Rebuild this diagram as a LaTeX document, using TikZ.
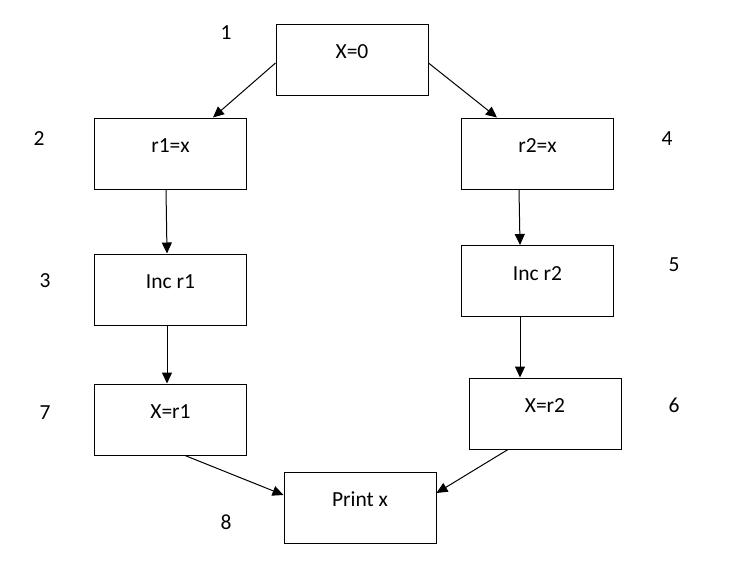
\documentclass[tikz,border=0pt]{standalone}
\usepackage{fontspec}
\setmainfont{Carlito}
\usetikzlibrary{arrows.meta}
\tikzset{stmt/.style={draw,line width=1pt,inner sep=0pt,minimum width=152pt,text height=34.5pt,text depth=36.5pt,font=\fontsize{21.5}{26}\selectfont},
  num/.style={inner sep=0pt,font=\fontsize{21.5}{26}\selectfont},
  arr/.style={-{Triangle[length=11pt,width=10pt]},line width=1pt}}
\begin{document}
\begin{tikzpicture}[x=1pt,y=-1pt]
\useasboundingbox (0,0) rectangle (738,576);
\node[stmt] (x0) at (352,59.5){X=0}; \node[num] (n1) at (226,33){1};
\node[stmt] (r1) at (170.5,153.5){r1=x}; \node[num] (n2) at (39,139){2};
\node[stmt] (r2) at (537.5,153.5){r2=x}; \node[num] (n4) at (667,139){4};
\node[stmt] (inc1) at (170.5,289.5){Inc r1}; \node[num] (n3) at (45,281){3};
\node[stmt] (inc2) at (537.5,281){Inc r2}; \node[num] (n5) at (674,265){5};
\node[stmt] (xr1) at (170.5,419.5){X=r1}; \node[num] (n7) at (45,413){7};
\node[stmt] (xr2) at (545,413.5){X=r2}; \node[num] (n6) at (674,405){6};
\node[stmt] (pr) at (360,507.5){Print x}; \node[num] (n8) at (226,522){8};
\draw[arr] ([yshift=-3.5pt]x0.west)--([xshift=42.5pt]r1.north);
\draw[arr] ([yshift=-3.5pt]x0.east)--([xshift=-40.5pt]r2.north);
\draw[arr] ([xshift=-4.5pt]r1.south)--([xshift=-3.5pt]inc1.north);
\draw[arr] ([xshift=-18.5pt]r2.south)--([xshift=-17.5pt]inc2.north);
\draw[arr] ([xshift=-3.5pt]inc1.south)--([xshift=-3.5pt]xr1.north);
\draw[arr] ([xshift=-17.5pt]inc2.south)--([xshift=-25pt]xr2.north);
\draw[arr] ([xshift=14.5pt]xr1.south)--([yshift=12.5pt]pr.west);
\draw[arr] ([xshift=-37pt]xr2.south)--([yshift=14.5pt]pr.east);
\end{tikzpicture}
\end{document}
